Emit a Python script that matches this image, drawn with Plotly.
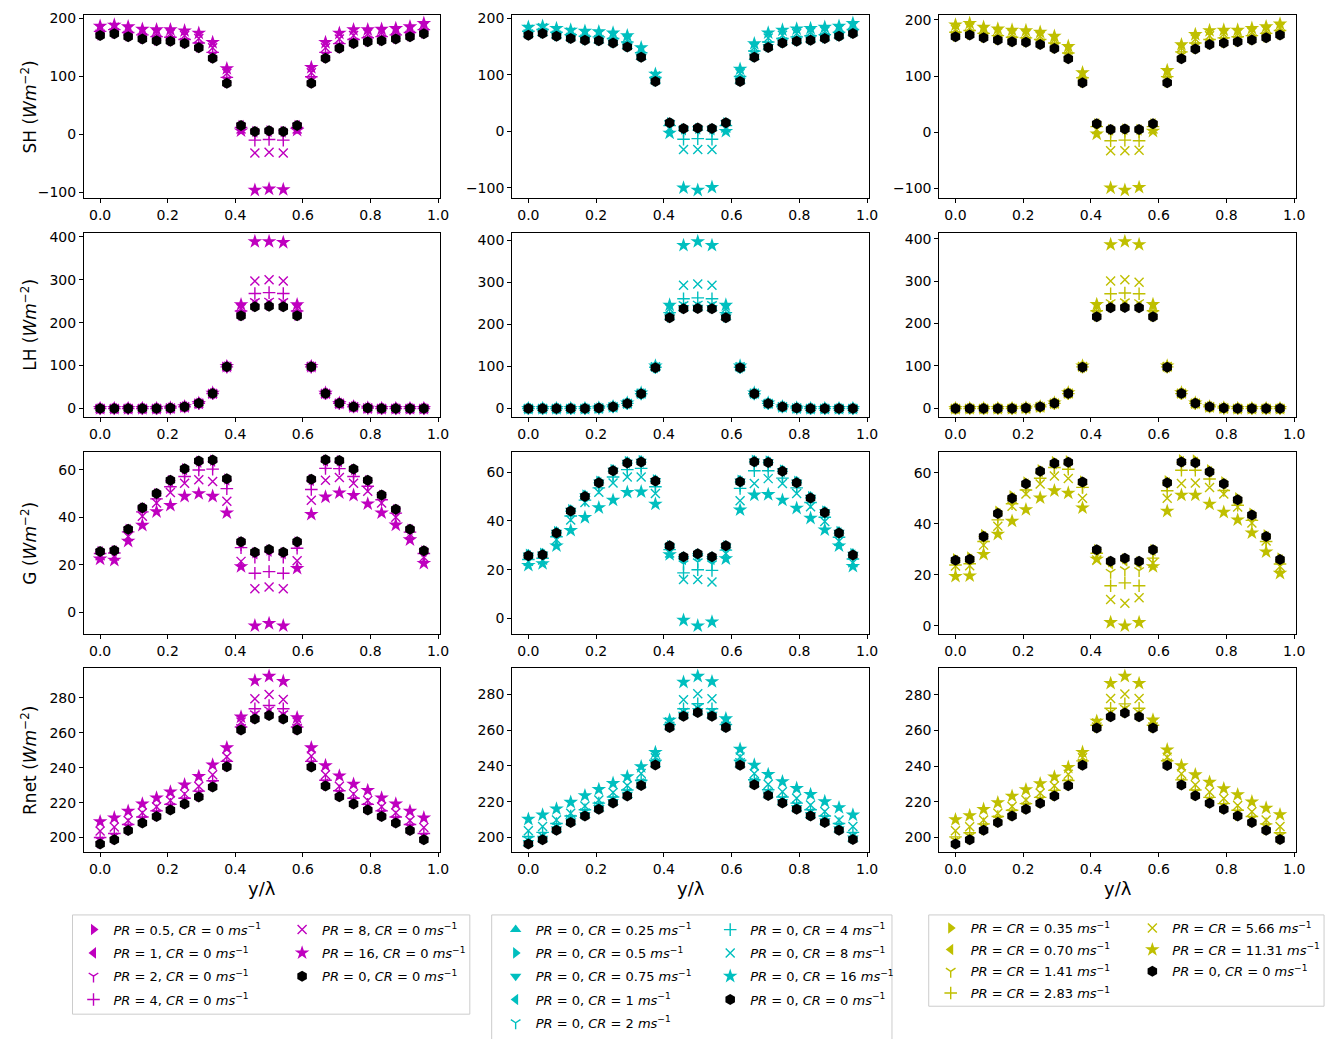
import plotly.graph_objects as go
from plotly.subplots import make_subplots

# ---------------- data ----------------
X = [0.0, 0.042, 0.083, 0.125, 0.167, 0.208, 0.25, 0.292, 0.333, 0.375, 0.417, 0.458,
     0.5, 0.542, 0.583, 0.625, 0.667, 0.708, 0.75, 0.792, 0.833, 0.875, 0.917, 0.958]

# baseline PR = 0, CR = 0 (black)
SH_0 = [170, 173, 168, 164, 161, 160, 156, 149, 131, 88, 15, 5, 6, 5, 15, 88, 131, 148, 156, 159, 161, 164, 168, 173]
LH_0 = [0, 0, 0, 0, 0, 1, 4, 12, 35, 97, 216, 237, 238, 237, 216, 97, 35, 12, 4, 1, 0, 0, 0, 0]
G_0 = [25.7, 26.1, 35.0, 44.0, 50.0, 55.6, 60.5, 63.7, 64.1, 56.3, 29.8, 25.3, 26.5, 25.3, 29.8, 56.0, 64.2, 63.9, 60.3, 55.6, 49.4, 43.4, 35.0, 26.0]
RN_0 = [196.3, 198.7, 204.0, 208.4, 212.0, 215.8, 219.2, 223.2, 229.0, 240.5, 261.5, 267.8, 269.9, 267.8, 261.5, 240.4, 229.5, 223.4, 219.2, 215.8, 212.0, 208.4, 204.0, 198.8]

# column 1: PR only (magenta)
SH_PR05 = [171, 174, 169, 165, 162, 161, 157, 150, 132, 89, 15, 5, 6, 5, 15, 89, 132, 149, 157, 160, 162, 165, 169, 174]
SH_PR1 = [172, 175, 170, 166, 163, 162, 158, 151, 133, 90, 15, 4, 5, 4, 15, 90, 133, 150, 158, 161, 163, 166, 170, 175]
SH_PR2 = [174, 177, 172, 168, 165, 164, 160, 153, 136, 93, 14, 2, 3, 2, 14, 93, 136, 152, 160, 163, 165, 168, 172, 177]
SH_PR4 = [177, 180, 175, 171, 168, 167, 163, 157, 141, 98, 12, -10, -9, -10, 12, 99, 141, 156, 163, 166, 168, 171, 175, 180]
SH_PR8 = [181, 184, 180, 176, 174, 173, 170, 165, 149, 105, 9, -32, -31, -32, 9, 106, 149, 164, 170, 173, 175, 177, 180, 185]
SH_PR16 = [186, 188, 185, 181, 180, 180, 178, 174, 158, 113, 6, -96, -94, -95, 7, 115, 158, 174, 180, 180, 181, 182, 185, 191]

LH_PR05 = [0, 0, 0, 0, 0, 1, 4, 12, 35, 97, 217, 239, 240, 239, 217, 97, 35, 12, 4, 1, 0, 0, 0, 0]
LH_PR1 = [0, 0, 0, 0, 0, 1, 4, 12, 35, 97, 218, 242, 243, 242, 218, 97, 35, 12, 4, 1, 0, 0, 0, 0]
LH_PR2 = [0, 0, 0, 0, 0, 1, 4, 12, 35, 97, 221, 249, 250, 249, 221, 97, 35, 12, 4, 1, 0, 0, 0, 0]
LH_PR4 = [0, 0, 0, 0, 0, 1, 4, 12, 35, 97, 227, 268, 270, 268, 227, 97, 35, 12, 4, 1, 0, 0, 0, 0]
LH_PR8 = [0, 0, 0, 0, 0, 1, 4, 12, 35, 98, 233, 297, 300, 297, 233, 98, 35, 12, 4, 1, 0, 0, 0, 0]
LH_PR16 = [0, 0, 0, 0, 0, 1, 4, 12, 36, 98, 242, 389, 389, 387, 242, 98, 36, 12, 4, 1, 0, 0, 0, 0]

G_PR05 = [25.6, 26.0, 35.0, 43.9, 49.9, 55.5, 60.4, 63.6, 64.0, 56.1, 29.6, 25.1, 26.3, 25.1, 29.6, 55.9, 64.0, 63.8, 60.1, 55.5, 49.3, 43.3, 35.0, 25.9]
G_PR1 = [25.5, 25.9, 34.9, 43.8, 49.7, 55.2, 60.0, 63.2, 63.6, 55.7, 29.3, 24.7, 25.8, 24.7, 29.3, 55.5, 63.7, 63.4, 59.8, 55.2, 49.1, 43.1, 34.8, 25.7]
G_PR2 = [25.2, 25.6, 34.5, 43.2, 49.0, 54.3, 58.9, 61.9, 62.3, 54.4, 28.6, 23.3, 24.3, 23.3, 28.6, 54.2, 62.4, 62.1, 58.7, 54.3, 48.4, 42.6, 34.4, 25.4]
G_PR4 = [24.8, 25.0, 33.9, 42.3, 47.8, 52.9, 57.2, 59.9, 60.3, 52.1, 27.3, 16.5, 17.2, 16.5, 27.0, 51.7, 60.6, 60.5, 57.2, 53.1, 47.4, 41.8, 33.8, 24.8]
G_PR8 = [23.9, 23.8, 32.0, 40.5, 46.0, 50.5, 54.4, 55.8, 55.1, 46.8, 21.5, 10.0, 10.7, 10.0, 21.8, 47.2, 55.6, 56.8, 54.4, 51.0, 46.0, 40.1, 32.9, 23.2]
G_PR16 = [22.5, 22.0, 30.0, 36.7, 42.4, 45.1, 48.9, 50.0, 48.9, 41.9, 19.3, -5.6, -4.6, -5.6, 18.6, 41.3, 48.6, 50.3, 49.3, 45.7, 41.9, 36.8, 30.6, 20.7]

RN_PR05 = [196.8, 199.2, 204.5, 208.9, 212.5, 216.3, 219.7, 223.7, 229.5, 241.0, 262.0, 268.3, 270.4, 268.3, 262.0, 240.9, 230.0, 223.9, 219.7, 216.3, 212.5, 208.9, 204.5, 199.3]
RN_PR1 = [197.4, 199.8, 205.1, 209.5, 213.1, 216.9, 220.3, 224.3, 230.1, 241.6, 262.4, 269.0, 271.2, 269.0, 262.4, 241.5, 230.6, 224.5, 220.3, 216.9, 213.1, 209.5, 205.1, 199.9]
RN_PR2 = [198.4, 200.8, 206.0, 210.4, 214.0, 217.8, 221.2, 225.2, 231.0, 242.5, 263.0, 270.8, 273.0, 270.8, 263.0, 242.4, 231.5, 225.4, 221.2, 217.8, 214.0, 210.4, 206.0, 200.8]
RN_PR4 = [200.0, 202.3, 207.5, 211.8, 215.3, 219.0, 222.5, 226.6, 232.5, 243.6, 263.3, 273.7, 275.6, 273.7, 263.3, 243.6, 232.8, 226.8, 222.5, 219.0, 215.3, 211.8, 207.5, 202.3]
RN_PR8 = [203.8, 206.1, 209.8, 214.2, 217.6, 221.2, 225.0, 229.3, 235.9, 246.3, 266.1, 279.4, 281.9, 279.0, 266.1, 246.6, 235.9, 229.3, 225.0, 221.2, 217.6, 214.2, 209.8, 205.7]
RN_PR16 = [209.1, 211.3, 215.1, 219.3, 222.7, 226.1, 230.2, 235.0, 241.6, 251.4, 269.0, 289.8, 292.3, 289.4, 268.6, 251.4, 241.2, 235.3, 230.6, 227.0, 222.7, 219.3, 215.1, 211.3]

# column 2: CR only (cyan)
SH_CR025 = [171, 173, 169, 165, 162, 160, 157, 150, 131, 89, 15, 5, 6, 5, 15, 89, 131, 149, 157, 160, 162, 165, 169, 174]
SH_CR05 = [171, 174, 169, 165, 162, 161, 157, 150, 132, 89, 15, 4, 5, 4, 15, 90, 132, 149, 157, 160, 162, 165, 169, 174]
SH_CR075 = [172, 174, 170, 166, 163, 161, 158, 151, 132, 90, 15, 4, 5, 4, 15, 90, 133, 150, 158, 161, 163, 166, 170, 175]
SH_CR1 = [172, 175, 170, 166, 163, 162, 158, 151, 133, 90, 14, 3, 4, 3, 14, 91, 134, 150, 158, 161, 163, 166, 170, 175]
SH_CR2 = [174, 177, 172, 168, 165, 164, 160, 153, 135, 92, 13, 1, 2, 1, 13, 93, 137, 153, 160, 163, 165, 168, 172, 177]
SH_CR4 = [177, 180, 175, 171, 168, 167, 164, 158, 139, 95, 10, -14, -13, -14, 10, 97, 142, 158, 164, 167, 169, 171, 175, 180]
SH_CR8 = [180, 183, 178, 175, 172, 171, 168, 162, 143, 98, 6, -32, -32, -32, 6, 102, 148, 165, 170, 173, 175, 177, 180, 185]
SH_CR16 = [184, 186, 182, 179, 177, 176, 174, 169, 148, 101, -3, -100, -104, -99, 0, 110, 155, 174, 179, 181, 182, 184, 186, 191]

LH_CR025 = [0, 0, 0, 0, 0, 1, 4, 12, 35, 97, 217, 238, 239, 238, 217, 97, 35, 12, 4, 1, 0, 0, 0, 0]
LH_CR05 = [0, 0, 0, 0, 0, 1, 4, 12, 35, 97, 217, 239, 240, 239, 217, 97, 35, 12, 4, 1, 0, 0, 0, 0]
LH_CR075 = [0, 0, 0, 0, 0, 1, 4, 12, 35, 97, 218, 240, 241, 240, 218, 97, 35, 12, 4, 1, 0, 0, 0, 0]
LH_CR1 = [0, 0, 0, 0, 0, 1, 4, 12, 35, 97, 218, 241, 242, 241, 218, 97, 35, 12, 4, 1, 0, 0, 0, 0]
LH_CR2 = [0, 0, 0, 0, 0, 1, 4, 12, 35, 98, 221, 247, 248, 247, 221, 98, 35, 12, 4, 1, 0, 0, 0, 0]
LH_CR4 = [0, 0, 0, 0, 0, 1, 4, 12, 35, 98, 228, 261, 263, 261, 228, 98, 35, 12, 4, 1, 0, 0, 0, 0]
LH_CR8 = [0, 0, 0, 0, 0, 1, 4, 12, 36, 99, 237, 293, 296, 293, 237, 99, 36, 12, 4, 1, 0, 0, 0, 0]
LH_CR16 = [0, 0, 0, 0, 0, 1, 4, 13, 37, 101, 246, 388, 397, 388, 246, 101, 37, 13, 4, 1, 0, 0, 0, 0]

G_CR025 = [26.5, 26.9, 35.8, 44.8, 50.8, 56.4, 61.2, 64.5, 64.9, 57.0, 30.0, 25.5, 26.7, 25.5, 30.0, 56.8, 65.0, 64.7, 61.0, 56.4, 50.2, 44.2, 35.8, 26.8]
G_CR05 = [26.3, 26.7, 35.6, 44.6, 50.6, 56.2, 61.0, 64.3, 64.7, 56.8, 29.8, 25.0, 26.2, 25.0, 29.8, 56.6, 64.8, 64.5, 60.8, 56.2, 50.0, 44.0, 35.6, 26.6]
G_CR075 = [26.0, 26.4, 35.3, 44.3, 50.3, 55.9, 60.7, 64.0, 64.4, 56.5, 29.6, 24.6, 25.8, 24.6, 29.6, 56.3, 64.5, 64.2, 60.5, 55.9, 49.7, 43.7, 35.3, 26.3]
G_CR1 = [25.7, 26.1, 35.0, 44.0, 50.0, 55.6, 60.4, 63.7, 64.1, 56.2, 29.4, 24.2, 25.4, 24.2, 29.4, 56.0, 64.2, 63.9, 60.2, 55.6, 49.4, 43.4, 35.0, 26.0]
G_CR2 = [24.9, 25.4, 34.2, 43.0, 48.9, 54.4, 59.1, 62.2, 62.6, 54.8, 28.9, 22.4, 23.2, 22.4, 28.9, 54.6, 62.9, 62.5, 59.0, 54.4, 48.4, 42.5, 34.2, 25.2]
G_CR4 = [24.2, 24.7, 33.5, 42.0, 48.5, 53.5, 58.0, 61.0, 61.5, 54.0, 28.2, 18.7, 20.0, 19.7, 28.0, 53.3, 60.5, 60.5, 57.5, 53.5, 47.5, 41.5, 33.3, 24.4]
G_CR8 = [23.4, 24.0, 32.3, 40.4, 47.5, 51.7, 55.5, 58.0, 58.0, 51.2, 26.8, 16.0, 16.0, 15.0, 26.6, 48.2, 55.3, 57.3, 55.3, 51.2, 45.8, 39.7, 31.6, 22.8]
G_CR16 = [21.8, 22.5, 29.8, 36.1, 41.4, 45.4, 48.5, 51.7, 51.9, 46.9, 26.2, -0.7, -3.0, -1.4, 24.5, 44.5, 50.6, 50.8, 48.5, 45.2, 41.1, 36.3, 29.8, 21.4]

RN_CR025 = [196.6, 199.0, 204.3, 208.7, 212.3, 216.1, 219.5, 223.5, 229.3, 240.8, 261.8, 268.1, 270.2, 268.1, 261.8, 240.7, 229.8, 223.7, 219.5, 216.1, 212.3, 208.7, 204.3, 199.1]
RN_CR05 = [196.9, 199.3, 204.6, 209.0, 212.6, 216.4, 219.8, 223.8, 229.6, 241.1, 262.0, 268.5, 270.6, 268.5, 262.0, 241.0, 230.1, 224.0, 219.8, 216.4, 212.6, 209.0, 204.6, 199.4]
RN_CR075 = [197.2, 199.6, 204.9, 209.3, 212.9, 216.7, 220.1, 224.1, 229.9, 241.4, 262.3, 268.9, 271.0, 268.9, 262.3, 241.3, 230.4, 224.3, 220.1, 216.7, 212.9, 209.3, 204.9, 199.7]
RN_CR1 = [197.5, 199.9, 205.2, 209.6, 213.2, 217.0, 220.4, 224.4, 230.2, 241.7, 262.5, 269.3, 271.5, 269.3, 262.5, 241.6, 230.7, 224.6, 220.4, 217.0, 213.2, 209.6, 205.2, 200.0]
RN_CR2 = [198.7, 201.1, 206.3, 210.7, 214.3, 218.1, 221.5, 225.4, 231.1, 242.5, 262.9, 270.6, 272.8, 270.6, 262.9, 242.5, 231.6, 225.6, 221.5, 218.1, 214.3, 210.7, 206.3, 201.1]
RN_CR4 = [200.5, 202.8, 207.8, 212.0, 215.5, 219.2, 222.6, 226.5, 232.0, 243.2, 263.1, 272.0, 274.8, 272.0, 263.1, 243.2, 232.3, 226.7, 222.6, 219.2, 215.5, 212.0, 207.8, 202.8]
RN_CR8 = [203.7, 206.1, 209.8, 213.5, 217.6, 221.0, 225.2, 229.0, 235.8, 244.6, 264.6, 277.0, 280.4, 277.6, 264.6, 245.0, 235.8, 229.7, 225.6, 221.9, 218.2, 214.5, 209.8, 206.1]
RN_CR16 = [210.2, 212.6, 216.0, 219.7, 223.4, 226.9, 230.3, 234.0, 239.6, 247.6, 265.6, 286.9, 290.2, 287.2, 266.5, 249.4, 240.5, 235.3, 231.2, 227.5, 224.1, 220.1, 216.7, 212.6]

# column 3: PR = CR (olive)
SH_C035 = [171, 174, 169, 165, 162, 161, 157, 150, 132, 89, 15, 5, 6, 5, 15, 89, 132, 149, 157, 160, 162, 165, 169, 174]
SH_C070 = [172, 175, 170, 166, 163, 162, 158, 151, 133, 90, 15, 4, 5, 4, 15, 90, 133, 150, 158, 161, 163, 166, 170, 175]
SH_C141 = [174, 177, 172, 168, 165, 164, 160, 153, 136, 93, 13, 1, 2, 1, 13, 94, 137, 153, 160, 163, 165, 168, 172, 177]
SH_C283 = [178, 181, 176, 172, 169, 168, 165, 159, 141, 97, 10, -15, -14, -15, 10, 99, 143, 159, 165, 168, 170, 172, 176, 181]
SH_C566 = [183, 186, 181, 177, 175, 174, 171, 165, 147, 101, 5, -33, -33, -32, 6, 104, 150, 166, 172, 175, 176, 178, 181, 186]
SH_C1131 = [191, 194, 187, 184, 182, 181, 178, 171, 153, 106, -3, -99, -103, -98, 2, 110, 156, 174, 181, 182, 182, 185, 188, 193]

LH_C035 = [0, 0, 0, 0, 0, 1, 4, 12, 35, 97, 217, 239, 240, 239, 217, 97, 35, 12, 4, 1, 0, 0, 0, 0]
LH_C070 = [0, 0, 0, 0, 0, 1, 4, 12, 35, 97, 218, 242, 243, 242, 218, 97, 35, 12, 4, 1, 0, 0, 0, 0]
LH_C141 = [0, 0, 0, 0, 0, 1, 4, 12, 35, 98, 222, 249, 251, 249, 222, 98, 35, 12, 4, 1, 0, 0, 0, 0]
LH_C283 = [0, 0, 0, 0, 0, 1, 4, 12, 35, 98, 230, 270, 272, 270, 230, 98, 35, 12, 4, 1, 0, 0, 0, 0]
LH_C566 = [0, 0, 0, 0, 0, 1, 4, 12, 36, 99, 238, 300, 303, 297, 238, 99, 36, 12, 4, 1, 0, 0, 0, 0]
LH_C1131 = [0, 0, 0, 0, 0, 1, 4, 13, 37, 100, 245, 386, 393, 386, 245, 100, 37, 13, 4, 1, 0, 0, 0, 0]

G_C035 = [26.3, 26.9, 35.8, 44.9, 50.9, 56.3, 61.1, 64.3, 64.6, 56.7, 29.9, 25.1, 26.3, 25.1, 29.9, 56.8, 65.0, 64.9, 61.1, 56.4, 50.1, 44.1, 35.7, 26.6]
G_C070 = [25.6, 26.1, 35.0, 44.0, 50.0, 55.5, 60.3, 63.5, 63.8, 55.9, 29.5, 24.2, 25.4, 24.2, 29.5, 56.0, 64.3, 64.0, 60.3, 55.5, 49.3, 43.3, 34.9, 25.9]
G_C141 = [24.5, 25.0, 33.9, 42.8, 48.8, 54.2, 58.9, 62.0, 62.4, 54.3, 28.8, 20.9, 21.9, 21.6, 28.3, 54.8, 62.8, 62.6, 59.0, 54.2, 48.0, 42.2, 33.9, 24.8]
G_C283 = [23.8, 24.3, 33.0, 41.5, 47.8, 53.2, 57.8, 62.0, 61.3, 54.2, 28.4, 15.7, 16.8, 15.7, 26.5, 52.9, 60.9, 60.9, 57.5, 53.0, 47.2, 41.3, 33.0, 24.2]
G_C566 = [23.4, 23.5, 31.6, 39.0, 46.8, 51.6, 55.5, 58.7, 57.7, 50.0, 25.8, 10.3, 8.8, 11.0, 24.5, 50.0, 55.7, 55.9, 54.2, 51.6, 46.5, 40.3, 33.2, 23.2]
G_C1131 = [19.4, 19.6, 28.0, 35.9, 41.0, 45.5, 50.1, 52.9, 52.0, 46.2, 26.1, 1.3, 0.0, 1.3, 23.2, 44.9, 51.2, 51.2, 47.7, 44.5, 41.5, 36.4, 29.0, 20.6]

RN_C035 = [196.7, 199.1, 204.4, 208.8, 212.4, 216.2, 219.6, 223.6, 229.4, 240.9, 261.8, 268.2, 270.3, 268.2, 261.8, 240.8, 229.9, 223.8, 219.6, 216.2, 212.4, 208.8, 204.4, 199.2]
RN_C070 = [197.2, 199.6, 204.9, 209.3, 212.9, 216.7, 220.1, 224.1, 229.9, 241.4, 262.2, 268.8, 271.0, 268.8, 262.2, 241.3, 230.4, 224.3, 220.1, 216.7, 212.9, 209.3, 204.9, 199.7]
RN_C141 = [198.2, 200.6, 205.9, 210.3, 213.9, 217.7, 221.1, 225.1, 230.9, 242.3, 262.7, 270.3, 272.5, 270.3, 262.7, 242.3, 231.4, 225.3, 221.1, 217.7, 213.9, 210.3, 205.9, 200.7]
RN_C283 = [200.3, 202.6, 207.6, 211.8, 215.3, 219.0, 222.5, 226.4, 232.0, 243.0, 263.0, 272.5, 275.0, 272.5, 263.0, 243.1, 232.3, 226.6, 222.5, 219.0, 215.3, 211.8, 207.6, 202.6]
RN_C566 = [203.8, 206.0, 209.8, 213.6, 217.4, 221.0, 225.0, 229.0, 235.5, 244.8, 264.3, 278.0, 280.5, 278.0, 264.3, 245.0, 235.8, 229.6, 225.5, 221.8, 218.0, 214.4, 209.8, 206.2]
RN_C1131 = [210.0, 212.3, 215.8, 219.5, 223.2, 226.8, 230.2, 234.0, 239.4, 247.8, 265.3, 286.5, 290.5, 286.5, 266.0, 249.2, 240.3, 235.2, 231.0, 227.4, 224.0, 220.0, 216.5, 212.8]

ROW_TITLES = ["SH", "LH", "G", "Rnet"]
Y_TICKS = [[-100, 0, 100, 200], [0, 100, 200, 300, 400], [0, 20, 40, 60], [200, 220, 240, 260, 280]]
X_TICKS = [0.0, 0.2, 0.4, 0.6, 0.8, 1.0]

# ---------------- figure ----------------
W, H = 1341, 1039
MAG, CYA, OLI = "#BF00BF", "#00BFBF", "#BFBF00"
FONT = "DejaVu Sans"


def fx(px):
    return px / W


def fy(py):
    return 1 - py / H


MS = "<i>ms</i><sup>−1</sup>"


def lab_pc(pr, cr):
    return f"<i>PR</i> = {pr}, <i>CR</i> = {cr} " + MS


def lab_eq(v):
    return f"<i>PR</i> = <i>CR</i> = {v} " + MS


LINE_SYMS = {"cross-thin", "x-thin", "y-down"}
SIZES = {"triangle-right": 10, "triangle-left": 10, "triangle-up": 10, "triangle-down": 10,
         "y-down": 8, "cross-thin": 9, "x-thin": 9, "star": 11, "hexagon": 11}

col1 = [
    (lab_pc(0.5, 0), "triangle-right", MAG, [SH_PR05, LH_PR05, G_PR05, RN_PR05], "legend"),
    (lab_pc(1, 0), "triangle-left", MAG, [SH_PR1, LH_PR1, G_PR1, RN_PR1], "legend"),
    (lab_pc(2, 0), "y-down", MAG, [SH_PR2, LH_PR2, G_PR2, RN_PR2], "legend"),
    (lab_pc(4, 0), "cross-thin", MAG, [SH_PR4, LH_PR4, G_PR4, RN_PR4], "legend"),
    (lab_pc(8, 0), "x-thin", MAG, [SH_PR8, LH_PR8, G_PR8, RN_PR8], "legend2"),
    (lab_pc(16, 0), "star", MAG, [SH_PR16, LH_PR16, G_PR16, RN_PR16], "legend2"),
    (lab_pc(0, 0), "hexagon", "black", [SH_0, LH_0, G_0, RN_0], "legend2"),
]
col2 = [
    (lab_pc(0, 0.25), "triangle-up", CYA, [SH_CR025, LH_CR025, G_CR025, RN_CR025], "legend3"),
    (lab_pc(0, 0.5), "triangle-right", CYA, [SH_CR05, LH_CR05, G_CR05, RN_CR05], "legend3"),
    (lab_pc(0, 0.75), "triangle-down", CYA, [SH_CR075, LH_CR075, G_CR075, RN_CR075], "legend3"),
    (lab_pc(0, 1), "triangle-left", CYA, [SH_CR1, LH_CR1, G_CR1, RN_CR1], "legend3"),
    (lab_pc(0, 2), "y-down", CYA, [SH_CR2, LH_CR2, G_CR2, RN_CR2], "legend3"),
    (lab_pc(0, 4), "cross-thin", CYA, [SH_CR4, LH_CR4, G_CR4, RN_CR4], "legend4"),
    (lab_pc(0, 8), "x-thin", CYA, [SH_CR8, LH_CR8, G_CR8, RN_CR8], "legend4"),
    (lab_pc(0, 16), "star", CYA, [SH_CR16, LH_CR16, G_CR16, RN_CR16], "legend4"),
    (lab_pc(0, 0), "hexagon", "black", [SH_0, LH_0, G_0, RN_0], "legend4"),
]
col3 = [
    (lab_eq("0.35"), "triangle-right", OLI, [SH_C035, LH_C035, G_C035, RN_C035], "legend5"),
    (lab_eq("0.70"), "triangle-left", OLI, [SH_C070, LH_C070, G_C070, RN_C070], "legend5"),
    (lab_eq("1.41"), "y-down", OLI, [SH_C141, LH_C141, G_C141, RN_C141], "legend5"),
    (lab_eq("2.83"), "cross-thin", OLI, [SH_C283, LH_C283, G_C283, RN_C283], "legend5"),
    (lab_eq("5.66"), "x-thin", OLI, [SH_C566, LH_C566, G_C566, RN_C566], "legend6"),
    (lab_eq("11.31"), "star", OLI, [SH_C1131, LH_C1131, G_C1131, RN_C1131], "legend6"),
    (lab_pc(0, 0), "hexagon", "black", [SH_0, LH_0, G_0, RN_0], "legend6"),
]
COLUMNS = [col1, col2, col3]

fig = make_subplots(rows=4, cols=3)

ranges = {}
for ci, series in enumerate(COLUMNS):
    for si, (name, sym, color, ys, leg) in enumerate(series):
        for ri, y in enumerate(ys):
            if sym in LINE_SYMS:
                marker = dict(symbol=sym, size=SIZES[sym], color=color,
                              line=dict(width=1.4, color=color))
            else:
                marker = dict(symbol=sym, size=SIZES[sym], color=color, line=dict(width=0))
            fig.add_trace(go.Scatter(
                x=X, y=y, mode="markers", name=name, marker=marker,
                legend=leg, legendgroup=f"c{ci}s{si}", showlegend=(ri == 0),
                hoverinfo="x+y"), row=ri + 1, col=ci + 1)
            lo, hi = ranges.get((ri, ci), (1e9, -1e9))
            ranges[(ri, ci)] = (min(lo, min(y)), max(hi, max(y)))

# plot-area positions in window pixels
XD = [(84.5, 443.0), (515.6, 875.0), (945.6, 1305.0)]
YD = [(10, 195), (230, 415), (450, 634), (668, 854)]

axis_common = dict(showline=True, linecolor="black", linewidth=1, mirror=True,
                   ticks="outside", ticklen=4, tickwidth=1, tickcolor="black",
                   showgrid=False, zeroline=False,
                   tickfont=dict(family=FONT, size=14, color="black"))

xspan = X[-1] - X[0]
for ri in range(4):
    for ci in range(3):
        lo, hi = ranges[(ri, ci)]
        pad = 0.05 * (hi - lo)
        fig.update_xaxes(domain=[fx(XD[ci][0]), fx(XD[ci][1])],
                         range=[X[0] - 0.05 * xspan, X[-1] + 0.05 * xspan],
                         tickvals=X_TICKS, tickformat=".1f", row=ri + 1, col=ci + 1,
                         **axis_common)
        fig.update_yaxes(domain=[fy(YD[ri][1]), fy(YD[ri][0])],
                         range=[lo - pad, hi + pad], tickvals=Y_TICKS[ri],
                         row=ri + 1, col=ci + 1, **axis_common)

annotations = []
for ri, t in enumerate(ROW_TITLES):
    yc = fy((YD[ri][0] + YD[ri][1]) / 2)
    annotations.append(dict(text=f"{t} (<i>Wm</i><sup>−2</sup>)", x=fx(29), y=yc,
                            xref="paper", yref="paper", textangle=-90, showarrow=False,
                            font=dict(family=FONT, size=17, color="black"),
                            xanchor="center", yanchor="middle"))
for ci in range(3):
    xc = fx((XD[ci][0] + XD[ci][1]) / 2)
    annotations.append(dict(text="y/λ", x=xc, y=fy(890), xref="paper", yref="paper",
                            showarrow=False, font=dict(family=FONT, size=18, color="black"),
                            xanchor="center", yanchor="middle"))


def leg(xpx, ypx, gap):
    return dict(x=fx(xpx), y=fy(ypx), xanchor="left", yanchor="top",
                bgcolor="rgba(0,0,0,0)", borderwidth=0, tracegroupgap=gap,
                font=dict(family=FONT, size=13, color="black"), orientation="v")


shapes = []
for (x0, y0, x1, y1) in [(73, 917, 473, 1017), (495, 917, 898, 1050), (935, 917, 1333, 1009)]:
    shapes.append(dict(type="rect", xref="paper", yref="paper",
                       x0=fx(x0), x1=fx(x1), y0=fy(y1), y1=fy(y0),
                       line=dict(color="#cccccc", width=1), fillcolor="rgba(0,0,0,0)"))

fig.update_layout(
    width=W, height=H, margin=dict(l=0, r=0, t=0, b=0),
    paper_bgcolor="white", plot_bgcolor="white",
    font=dict(family=FONT, color="black"),
    annotations=annotations, shapes=shapes,
    legend=leg(74, 916.7, 3.4), legend2=leg(284, 916.7, 3.4),
    legend3=leg(499, 916.7, 3.4), legend4=leg(715, 916.7, 3.4),
    legend5=leg(937, 915, 1.8), legend6=leg(1140, 915, 1.8),
)

# remove the default page margin so the figure fills the window exactly
fig.write_html("out.html", config={"displayModeBar": False},
               post_script="document.body.style.margin='0px';document.body.style.overflow='hidden';")
